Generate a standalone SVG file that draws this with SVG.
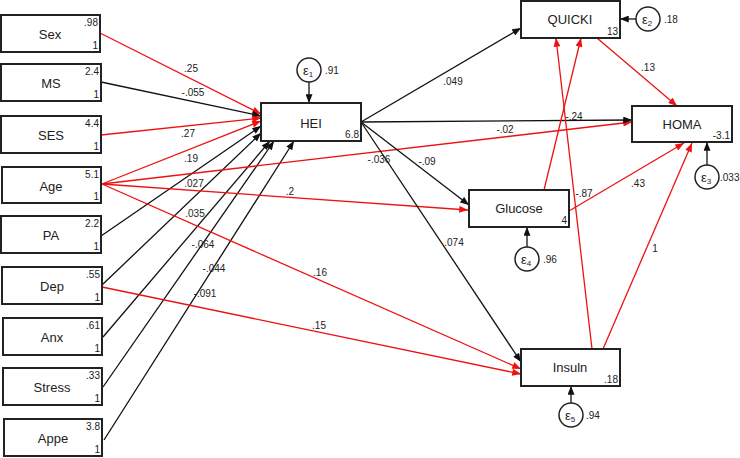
<svg xmlns="http://www.w3.org/2000/svg" width="740" height="458" viewBox="0 0 740 458">
<style>
.box{fill:#fff;stroke:#222;stroke-width:2}
.nm{font-family:"Liberation Sans",Arial,sans-serif;font-size:13px;fill:#222;text-anchor:middle}
.sm{font-family:"Liberation Sans",Arial,sans-serif;font-size:10px;fill:#222;text-anchor:end}
.lb{font-family:"Liberation Sans",Arial,sans-serif;font-size:10px;fill:#222;text-anchor:middle}
.el{font-family:"Liberation Sans",Arial,sans-serif;font-size:10px;fill:#222;text-anchor:start}
.ep{font-family:"Liberation Sans",Arial,sans-serif;font-size:13px;fill:#222;text-anchor:middle}
.k{fill:none;stroke:#111;stroke-width:1.3;marker-end:url(#ak)}
.r{fill:none;stroke:#ee1111;stroke-width:1.3;marker-end:url(#ar)}
.c{fill:#fff;stroke:#222;stroke-width:1.5}
</style>
<defs>
<marker id="ak" viewBox="0 0 10 8" refX="10" refY="4" markerWidth="10" markerHeight="7" markerUnits="userSpaceOnUse" orient="auto"><path d="M0,0 L10,4 L0,8 z" fill="#111"/></marker>
<marker id="ar" viewBox="0 0 10 8" refX="10" refY="4" markerWidth="10" markerHeight="7" markerUnits="userSpaceOnUse" orient="auto"><path d="M0,0 L10,4 L0,8 z" fill="#ee1111"/></marker>
</defs>

<g id="connectors">
<line class="r" x1="100" y1="33" x2="261" y2="114"/>
<line class="k" x1="101" y1="82" x2="261" y2="116"/>
<line class="r" x1="101" y1="135" x2="261" y2="118"/>
<line class="r" x1="102" y1="184" x2="261" y2="121"/>
<line class="k" x1="101" y1="236" x2="261" y2="126"/>
<line class="k" x1="102" y1="285" x2="261" y2="133"/>
<line class="k" x1="103" y1="337" x2="270" y2="141"/>
<line class="k" x1="103" y1="387" x2="274" y2="141"/>
<line class="k" x1="104" y1="440" x2="294" y2="141"/>
<line class="r" x1="102" y1="184" x2="632" y2="122"/>
<line class="r" x1="102" y1="184" x2="468" y2="210"/>
<line class="r" x1="102" y1="184" x2="521" y2="369"/>
<line class="r" x1="102" y1="287" x2="521" y2="374"/>
<line class="k" x1="361" y1="122" x2="521" y2="28"/>
<line class="k" x1="361" y1="122" x2="632" y2="120"/>
<line class="k" x1="361" y1="122" x2="469" y2="205"/>
<line class="k" x1="361" y1="122" x2="521" y2="362"/>
<line class="r" x1="597" y1="38" x2="677" y2="106"/>
<line class="r" x1="544" y1="190" x2="581" y2="38"/>
<line class="r" x1="592" y1="349" x2="556" y2="38"/>
<line class="r" x1="569" y1="211" x2="684" y2="143"/>
<line class="r" x1="603" y1="349" x2="692" y2="143"/>
<line class="k" x1="309" y1="82" x2="309" y2="103"/>
<line class="k" x1="636" y1="19" x2="620" y2="19"/>
<line class="k" x1="707" y1="165" x2="707" y2="142"/>
<line class="k" x1="527" y1="247" x2="527" y2="227"/>
<line class="k" x1="571" y1="403" x2="571" y2="386"/>
</g>

<g id="path-labels">
<text class="lb" x="191" y="71.5">.25</text>
<text class="lb" x="193" y="95.5">-.055</text>
<text class="lb" x="188" y="136.5">.27</text>
<text class="lb" x="191" y="161.5">.19</text>
<text class="lb" x="194" y="186.5">.027</text>
<text class="lb" x="195" y="216.5">.035</text>
<text class="lb" x="203" y="247.5">-.064</text>
<text class="lb" x="214" y="271.5">-.044</text>
<text class="lb" x="205" y="296.5">-.091</text>
<text class="lb" x="320" y="275.5">.16</text>
<text class="lb" x="319" y="328.5">.15</text>
<text class="lb" x="290" y="194.5">.2</text>
<text class="lb" x="453" y="84.5">.049</text>
<text class="lb" x="505" y="132.5">-.02</text>
<text class="lb" x="379" y="162.5">-.036</text>
<text class="lb" x="427" y="164.5">-.09</text>
<text class="lb" x="574" y="119.5">-.24</text>
<text class="lb" x="648" y="70.5">.13</text>
<text class="lb" x="638" y="186.5">.43</text>
<text class="lb" x="584" y="196.5">-.87</text>
<text class="lb" x="655" y="251.5">1</text>
<text class="lb" x="454" y="245.5">.074</text>
</g>

<g id="Sex"><rect class="box" x="1" y="15" width="99" height="37"/><text class="nm" x="50" y="39">Sex</text><text class="sm" x="98" y="26">.98</text><text class="sm" x="98" y="49">1</text></g>
<g id="MS"><rect class="box" x="1" y="64" width="100" height="37"/><text class="nm" x="51" y="88">MS</text><text class="sm" x="99" y="75">2.4</text><text class="sm" x="99" y="98">1</text></g>
<g id="SES"><rect class="box" x="1" y="116" width="100" height="37"/><text class="nm" x="51" y="140">SES</text><text class="sm" x="99" y="127">4.4</text><text class="sm" x="99" y="150">1</text></g>
<g id="Age"><rect class="box" x="2" y="167" width="99" height="36"/><text class="nm" x="51" y="191">Age</text><text class="sm" x="99" y="178">5.1</text><text class="sm" x="99" y="200">1</text></g>
<g id="PA"><rect class="box" x="1" y="216" width="100" height="37"/><text class="nm" x="51" y="240">PA</text><text class="sm" x="99" y="227">2.2</text><text class="sm" x="99" y="250">1</text></g>
<g id="Dep"><rect class="box" x="2" y="267" width="100" height="37"/><text class="nm" x="52" y="291">Dep</text><text class="sm" x="100" y="278">.55</text><text class="sm" x="100" y="301">1</text></g>
<g id="Anx"><rect class="box" x="3" y="318" width="99" height="37"/><text class="nm" x="52" y="342">Anx</text><text class="sm" x="100" y="329">.61</text><text class="sm" x="100" y="352">1</text></g>
<g id="Stress"><rect class="box" x="3" y="368" width="99" height="37"/><text class="nm" x="52" y="392">Stress</text><text class="sm" x="100" y="379">.33</text><text class="sm" x="100" y="402">1</text></g>
<g id="Appe"><rect class="box" x="4" y="419" width="98" height="37"/><text class="nm" x="53" y="443">Appe</text><text class="sm" x="100" y="430">3.8</text><text class="sm" x="100" y="453">1</text></g>

<g id="HEI"><rect class="box" x="261" y="103" width="100" height="38"/><text class="nm" x="311" y="128">HEI</text><text class="sm" x="359" y="138">6.8</text></g>
<g id="QUICKI"><rect class="box" x="521" y="1" width="99" height="37"/><text class="nm" x="570" y="24">QUICKI</text><text class="sm" x="618" y="35">13</text></g>
<g id="HOMA"><rect class="box" x="632" y="106" width="100" height="36"/><text class="nm" x="682" y="129">HOMA</text><text class="sm" x="730" y="139">-3.1</text></g>
<g id="Glucose"><rect class="box" x="469" y="190" width="100" height="37"/><text class="nm" x="519" y="213">Glucose</text><text class="sm" x="567" y="224">4</text></g>
<g id="Insuln"><rect class="box" x="521" y="349" width="99" height="37"/><text class="nm" x="570" y="372">Insuln</text><text class="sm" x="618" y="383">.18</text></g>

<g id="e1"><circle class="c" cx="309" cy="70" r="12"/><text class="ep" x="308" y="74.5">ε<tspan font-size="8" dy="2">1</tspan></text><text class="el" x="325" y="73.5">.91</text></g>
<g id="e2"><circle class="c" cx="648" cy="19" r="12"/><text class="ep" x="647" y="23.5">ε<tspan font-size="8" dy="2">2</tspan></text><text class="el" x="664" y="22.5">.18</text></g>
<g id="e3"><circle class="c" cx="707" cy="177" r="12"/><text class="ep" x="706" y="181.5">ε<tspan font-size="8" dy="2">3</tspan></text><text class="el" x="720" y="180.5">.033</text></g>
<g id="e4"><circle class="c" cx="527" cy="259" r="12"/><text class="ep" x="526" y="263.5">ε<tspan font-size="8" dy="2">4</tspan></text><text class="el" x="543" y="262.5">.96</text></g>
<g id="e5"><circle class="c" cx="571" cy="415" r="12"/><text class="ep" x="570" y="419.5">ε<tspan font-size="8" dy="2">5</tspan></text><text class="el" x="586" y="418.5">.94</text></g>
</svg>
